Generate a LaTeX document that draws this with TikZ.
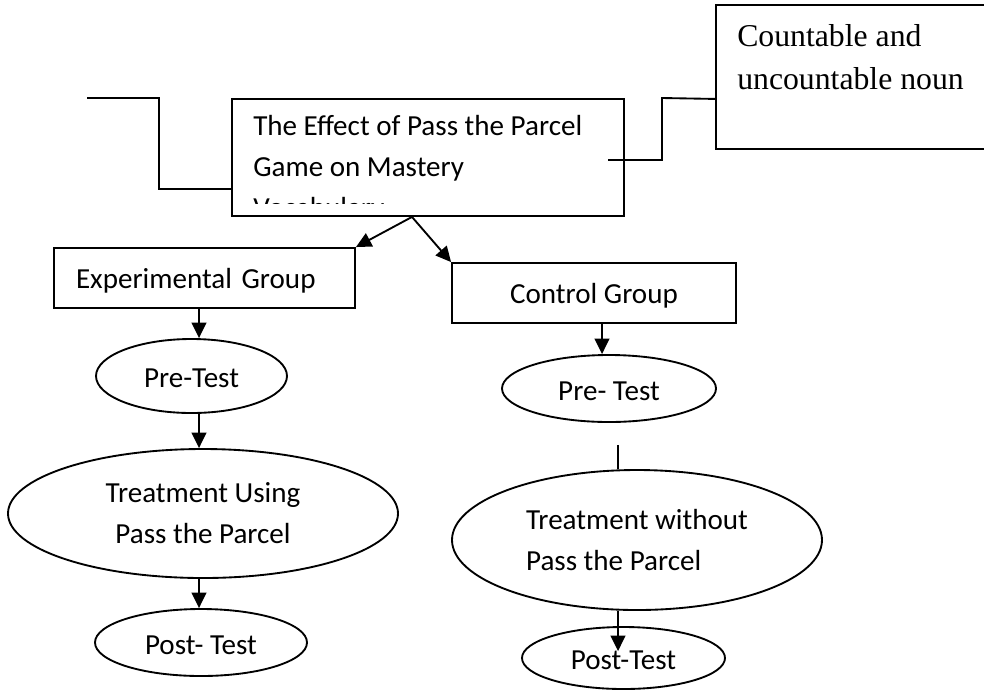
\documentclass[tikz,border=0pt]{standalone}
\usepackage{fontspec}
\setmainfont{Carlito}
\newfontfamily\nounfont{Liberation Serif}
\usetikzlibrary{arrows.meta, calc, shapes.geometric}
\tikzstyle{link} = [line width=1.4pt, black]
\tikzstyle{flow} = [line width=1.4pt, black, -{Triangle[length=11.5pt, width=11pt]}]
\tikzstyle{bodytext} = [font=\fontsize{21.8}{30.75}\selectfont]
\tikzstyle{groupbox} = [rectangle, draw, line width=1.4pt, inner sep=0pt, text depth=0pt, bodytext]
\tikzstyle{stage} = [ellipse, draw, line width=1.4pt, inner sep=0pt, align=center, bodytext]
\tikzstyle{teststage} = [stage, text height=17.4pt, text depth=0pt]

\begin{document}
\begin{tikzpicture}[x=0.75pt, y=-0.75pt]
    \useasboundingbox (0,0) rectangle (984,690);
    \clip (0,0) rectangle (984,690);

    % title box and the two side links
    \node[groupbox, minimum width=294pt, minimum height=87.75pt] (main) at (428,157.5) {};
    \begin{scope}
        \clip (main.north west) rectangle ($(main.south east)+(0,-13)$);
        \node[bodytext, anchor=north west, align=left, inner sep=0pt] (title) at (253,115)
            {The Effect of Pass the Parcel\\Game on Mastery\\Vocabulary};
    \end{scope}
    \node[groupbox, minimum width=220.5pt, minimum height=108pt] (noun) at (863,77) {};
    \node[anchor=north west, align=left, inner sep=0pt,
          font=\nounfont\fontsize{23.8}{32.25}\selectfont] (nountext) at (737,24)
        {Countable and\\uncountable noun};

    \coordinate (leftend) at (87,98);
    \coordinate (rstub) at (608,160);
    \draw[link] (leftend) -- (159,98) |- ($(main.south west)+(0,-28)$);
    \draw[link] (rstub) -| (662,98) -- ($(noun.south west)+(0,-51)$);

    % groups
    \coordinate (split) at ($(main.south)+(-16,0)$);
    \node[groupbox, minimum width=225.75pt, minimum height=45pt, inner xsep=16.5pt,
          text width=192.75pt, align=left] (exp) at (204.5,278) {Experimental Group};
    \node[groupbox, minimum width=213pt, minimum height=45pt] (ctrl) at (594,293) {Control Group};
    \draw[flow] (split) -- (exp.north east);
    \draw[flow] (split) -- (ctrl.north west);

    % experimental column
    \coordinate (colL) at (199,0);
    \node[teststage, minimum width=143.25pt, minimum height=55.5pt] (pre1) at (191.5,376) {Pre-Test};
    \node[stage, minimum width=292.5pt, minimum height=96.75pt] (treat1) at (203,513.5)
        {Treatment Using\\Pass the Parcel};
    \node[teststage, minimum width=159pt, minimum height=50.25pt] (post1) at (201,642.5) {Post- Test};
    \draw[flow] (exp.south -| colL) -- (pre1.north -| colL);
    \draw[flow] (pre1.south -| colL) -- (treat1.north -| colL);
    \draw[flow] (treat1.south -| colL) -- (post1.north -| colL);

    % control column
    \coordinate (colM) at (602,0);
    \coordinate (colR) at (618,0);
    \node[teststage, minimum width=160.5pt, minimum height=50.25pt] (pre2) at (609,388.5) {Pre- Test};
    \node[stage, align=left, minimum width=277.5pt, minimum height=105pt] (treat2) at (637,540)
        {Treatment without\\Pass the Parcel};
    \node[teststage, minimum width=152.25pt, minimum height=46.5pt] (post2) at (623.5,658) {Post-Test};
    \draw[flow] (ctrl.south -| colM) -- (pre2.north -| colM);
    \coordinate (gap) at ($(pre2.south -| colR)+(0,22)$);
    \draw[link] (gap) -- (treat2.north -| colR);
    \draw[flow] (treat2.south -| colR) -- ($(post2.north -| colR)+(0,25)$);
\end{tikzpicture}
\end{document}
